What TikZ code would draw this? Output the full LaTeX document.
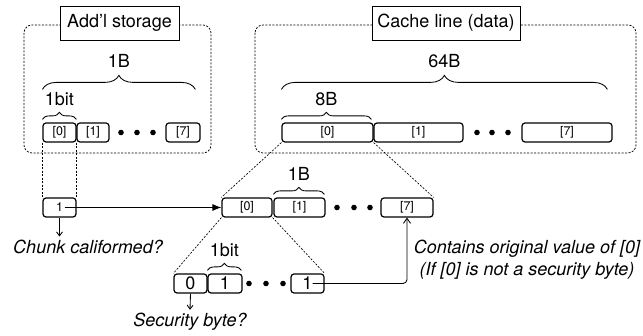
\documentclass[tikz,border=0pt]{standalone}
\usepackage{fontspec}
\setmainfont{TeX Gyre Heros}
\usetikzlibrary{arrows.meta,decorations.pathreplacing}
\begin{document}
\begin{tikzpicture}[x=1pt,y=-1pt]
  \tikzset{cell/.style={draw,line width=1.2pt,rounded corners=3pt,minimum height=\h,inner sep=0pt,font=\fontsize{12.5}{12.5}\selectfont},
    bigcell/.style={cell,font=\fontsize{18}{18}\selectfont},
    group/.style={draw,dash pattern=on 2pt off 1.5pt,rounded corners=8pt,line width=0.75pt},
    title/.style={draw,fill=white,line width=0.9pt,minimum height=34pt,inner sep=0pt,font=\fontsize{18}{18}\selectfont},
    brc/.style={decorate,decoration={brace,amplitude=#1},line width=0.85pt},
    lbl/.style={font=\fontsize{18}{18}\selectfont},
    note/.style={font=\fontsize{18}{22}\selectfont\itshape,align=center},
    zoomline/.style={dash pattern=on 2pt off 1.5pt,line width=0.65pt}}
  \def\h{19pt}
  \useasboundingbox (0,0) rectangle (643,336);
  %groups
  \draw[group] (24,25) rectangle (211,153);
  \draw[group] (255,25) rectangle (636,153);
  \node[title,minimum width=119pt] at (119.5,23) (ADDL) {Add’l storage};
  \node[title,minimum width=148pt] at (446,23) (LINE) {Cache line (data)};
  %add'l storage bits
  \node[cell,minimum width=33pt] at (59.5,132.5) (A0) {[0]};
  \node[cell,minimum width=32pt] at (93,132.5) (A1) {[1]};
  \node[cell,minimum width=34pt] at (183,132.5) (A7) {[7]};
  \foreach \x in {121,137,153} \fill (\x,132.5) circle (2.8pt);
  \draw[brc=14pt] (A0.north west)+(0,-33) -- +(153,-33) node[lbl,midway,yshift=28pt] (ONEB) {1B};
  \draw[brc=7pt] (A0.north west)+(0,-3) -- +(34,-3) node[lbl,midway,yshift=20pt] (ONEBIT) {1bit};
  %cache line words
  \node[cell,minimum width=91pt] at (327.5,132.5) (C0) {[0]};
  \node[cell,minimum width=89pt] at (418.5,132.5) (C1) {[1]};
  \node[cell,minimum width=90pt] at (567,132.5) (C7) {[7]};
  \foreach \x in {477,492,508} \fill (\x,132.5) circle (2.8pt);
  \draw[brc=14pt] (C0.north west)+(0,-33) -- +(326,-33) node[lbl,midway,yshift=28pt] (SIXTYFOURB) {64B};
  \draw[brc=7pt] (C0.north west)+(0,-3) -- +(90,-3) node[lbl,midway,yshift=20pt] (EIGHTB) {8B};
  %chunk bit
  \node[cell,minimum width=33pt] at (59.5,207.5) (CHUNK) {1};
  \node[note] at (88,247) (CHUNKTXT) {Chunk califormed?};
  %bytes of word [0]
  \node[cell,minimum width=50pt] at (247,207.5) (B0) {[0]};
  \node[cell,minimum width=51pt] at (299.5,207.5) (B1) {[1]};
  \node[cell,minimum width=52pt] at (407,207.5) (B7) {[7]};
  \foreach \x in {337,354,370} \fill (\x,207.5) circle (2.8pt);
  \draw[brc=7pt] (B1.north west)+(0,-3) -- +(51,-3) node[lbl,midway,yshift=20pt] (ONEBB) {1B};
  %bits of byte [0]
  \node[bigcell,minimum width=33pt] at (190.5,283.5) (S0) {0};
  \node[bigcell,minimum width=34pt] at (225,283.5) (S1) {1};
  \node[bigcell,minimum width=33pt] at (307.5,283.5) (S7) {1};
  \foreach \x in {249,266,283} \fill (\x,283.5) circle (2.8pt);
  \draw[brc=7pt] (S1.north west)+(0,-3) -- +(34,-3) node[lbl,midway,yshift=20pt] (ONEBITB) {1bit};
  \node[note] at (190,322) (SECTXT) {Security byte?};
  \node[note] at (527,260) (ORIGTXT) {Contains original value of [0]\\(If [0] is not a security byte)};
  %zoom lines
  \draw[zoomline] (A0.south west) -- (CHUNK.north west);
  \draw[zoomline] (A0.south east) -- (CHUNK.north east);
  \draw[zoomline] (C0.south west) -- (B0.north west);
  \draw[zoomline] (C0.south east) -- (B7.north east);
  \draw[zoomline] (B0.south west) -- (S0.north west);
  \draw[zoomline] (B0.south east) -- (S7.north east);
  %arrows
  \draw[-{Latex[length=9pt,width=7pt]},line width=0.85pt] ([xshift=5pt]CHUNK.center) -- (B0.west);
  \draw[-{Straight Barb[length=4pt,width=6pt]},line width=0.85pt] (CHUNK.south) -- (CHUNK.south |- CHUNKTXT.north);
  \draw[-{Straight Barb[length=4pt,width=6pt]},line width=0.85pt] (S0.south) -- (SECTXT.north);
  \draw[-{Straight Barb[length=5pt,width=7pt]},line width=0.85pt,rounded corners=4pt] ([xshift=5pt]S7.center) -| (B7.south);
\end{tikzpicture}
\end{document}
